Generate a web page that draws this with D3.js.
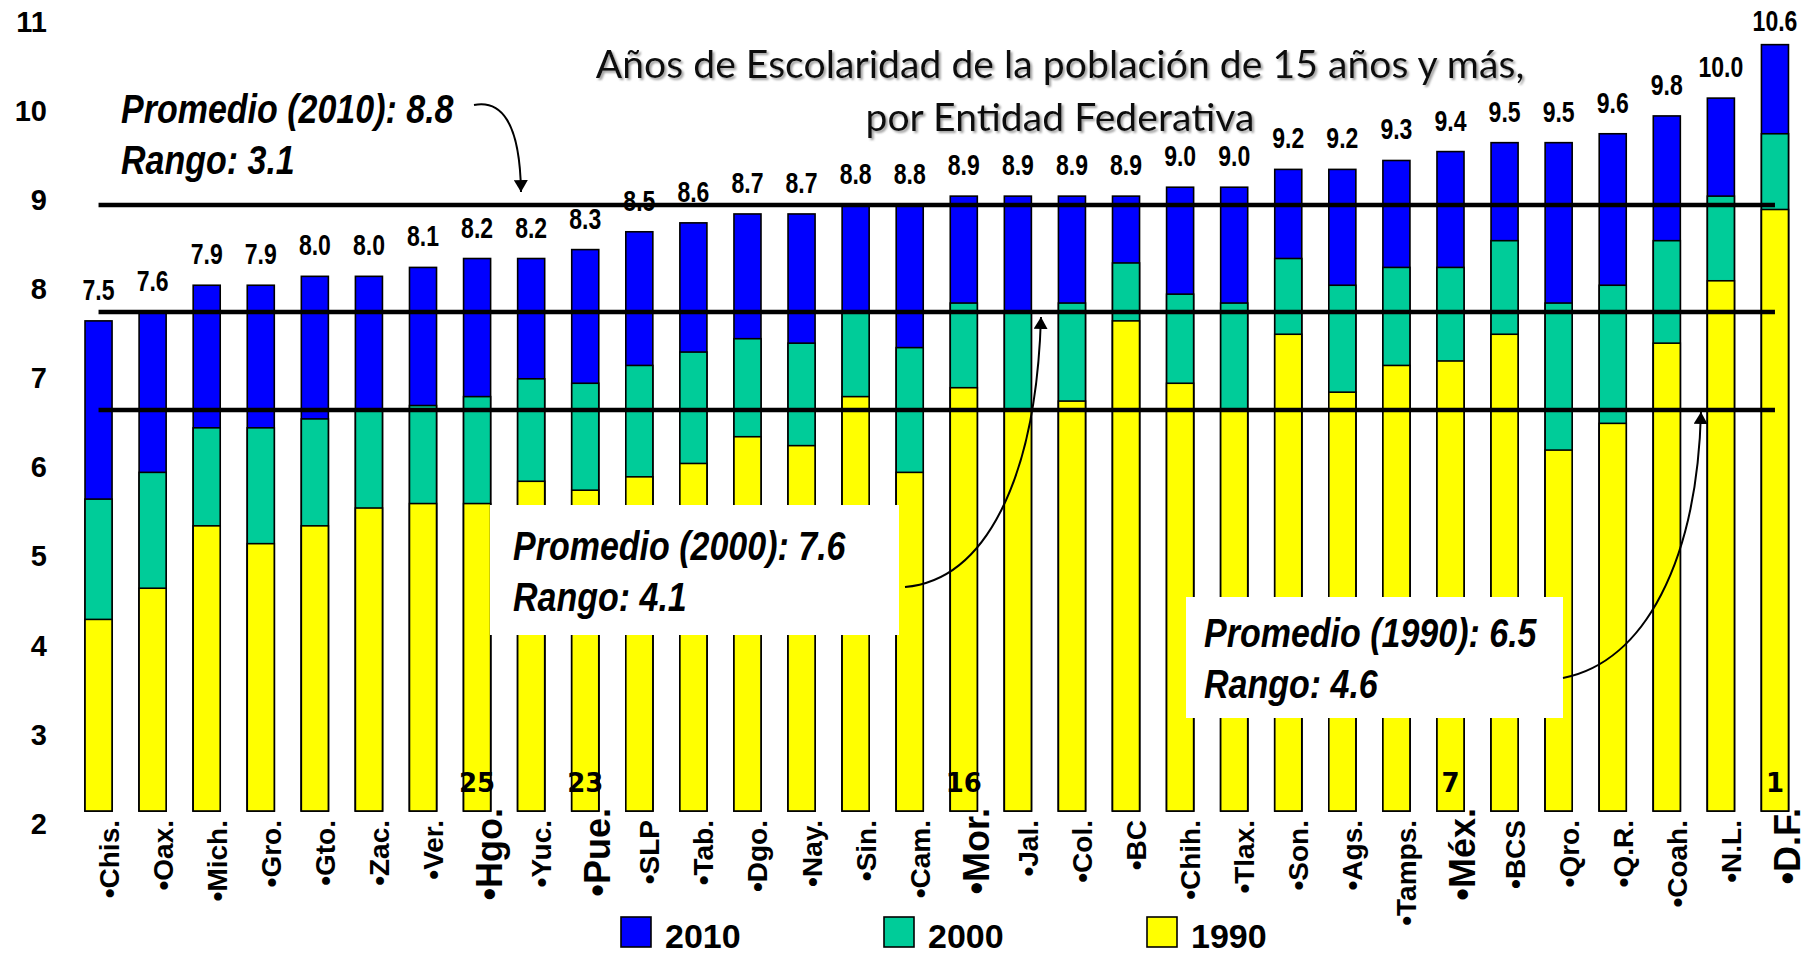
<!DOCTYPE html>
<html>
<head>
<meta charset="utf-8">
<script src="https://cdn.jsdelivr.net/npm/d3@7"></script>
<style>
  body { margin: 0; background: #fff; }
  svg { display: block; }
</style>
</head>
<body>
<svg id="main" width="1814" height="957"></svg>
<script>
// data
var states = ["Chis.", "Oax.", "Mich.", "Gro.", "Gto.", "Zac.", "Ver.", "Hgo.", "Yuc.", "Pue.",
  "SLP", "Tab.", "Dgo.", "Nay.", "Sin.", "Cam.", "Mor.", "Jal.", "Col.", "BC",
  "Chih.", "Tlax.", "Son.", "Ags.", "Tamps.", "Méx.", "BCS", "Qro.", "Q.R.", "Coah.",
  "N.L.", "D.F."];

var values2010 = [7.5, 7.6, 7.9, 7.9, 8.0, 8.0, 8.1, 8.2, 8.2, 8.3,
  8.5, 8.6, 8.7, 8.7, 8.8, 8.8, 8.9, 8.9, 8.9, 8.9,
  9.0, 9.0, 9.2, 9.2, 9.3, 9.4, 9.5, 9.5, 9.6, 9.8,
  10.0, 10.6];

var values2000 = [5.5, 5.8, 6.3, 6.3, 6.4, 6.5, 6.55, 6.65, 6.85, 6.8,
  7.0, 7.15, 7.3, 7.25, 7.6, 7.2, 7.7, 7.6, 7.7, 8.15,
  7.8, 7.7, 8.2, 7.9, 8.1, 8.1, 8.4, 7.7, 7.9, 8.4,
  8.9, 9.6];

var values1990 = [4.15, 4.5, 5.2, 5.0, 5.2, 5.4, 5.45, 5.45, 5.7, 5.6,
  5.75, 5.9, 6.2, 6.1, 6.65, 5.8, 6.75, 6.5, 6.6, 7.5,
  6.8, 6.5, 7.35, 6.7, 7.0, 7.05, 7.35, 6.05, 6.35, 7.25,
  7.95, 8.75];

var years = ["2010", "2000", "1990"];
var colors = ["#0000ff", "#00cc99", "#ffff00"];
var averages = [8.8, 7.6, 6.5];
var ranges = [3.1, 4.1, 4.6];

var highlighted = ["Hgo.", "Pue.", "Mor.", "Méx.", "D.F."];
var ranks = [25, 23, 16, 7, 1];

var yTicks = [2, 3, 4, 5, 6, 7, 8, 9, 10, 11];

var titleLines = ["Años de Escolaridad de la población de 15 años y más,", "por Entidad Federativa"];

var boldFont = "'Liberation Sans', Arial, sans-serif";

var svg = d3.select("#main");

var defs = svg.append("defs");
defs.append("filter")
  .attr("id", "shadow")
  .attr("x", "-5%").attr("y", "-20%").attr("width", "110%").attr("height", "140%")
  .append("feDropShadow")
  .attr("dx", 2).attr("dy", 2).attr("stdDeviation", 1)
  .attr("flood-color", "#888").attr("flood-opacity", 0.8);

defs.append("marker")
  .attr("id", "arrow")
  .attr("viewBox", "0 0 12 14")
  .attr("markerUnits", "userSpaceOnUse")
  .attr("markerWidth", 12).attr("markerHeight", 14)
  .attr("refX", 12).attr("refY", 7)
  .attr("orient", "auto")
  .append("path")
  .attr("d", "M0,0 L12,7 L0,14 Z")
  .attr("fill", "#000");

var x = d3.scaleBand()
  .domain(states)
  .range([71.5, 1802])
  .paddingInner(0.5)
  .paddingOuter(0.25);

var y = d3.scaleLinear()
  .domain([2, 11])
  .range([811, 9]);

var bw = x.bandwidth();
function cx(s) { return x(s) + bw / 2; }

// y axis, labels only
var yAxis = svg.append("g")
  .attr("transform", "translate(47,0)")
  .call(d3.axisLeft(y).tickValues(yTicks).tickSize(0).tickPadding(0).tickFormat(d3.format("d")));
yAxis.select(".domain").remove();
yAxis.selectAll("text")
  .attr("transform", "translate(0,13)")
  .style("font-family", boldFont)
  .style("font-weight", "bold")
  .style("font-size", "29px")
  .style("fill", "#000");

// overlapping bars: 2010 behind, 1990 in front
var series = [values2010, values2000, values1990];
series.forEach(function(vals, i) {
  svg.append("g")
    .attr("class", "bars-" + years[i])
    .selectAll("rect")
    .data(states)
    .enter()
    .append("rect")
    .attr("x", function(d) { return x(d); })
    .attr("width", bw)
    .attr("y", function(d, j) { return y(vals[j]); })
    .attr("height", function(d, j) { return y(2) - y(vals[j]); })
    .attr("fill", colors[i])
    .attr("stroke", "#000")
    .attr("stroke-width", 1.6);
});

// value labels of 2010 (tall, narrow look of the original)
svg.append("g")
  .selectAll("text")
  .data(states)
  .enter()
  .append("text")
  .attr("transform", function(d, j) {
    return "translate(" + cx(d) + "," + Math.max(y(values2010[j]) - 21, 31) + ") scale(1,1.25)";
  })
  .attr("text-anchor", "middle")
  .style("font-family", boldFont)
  .style("font-weight", "bold")
  .style("font-size", "23px")
  .text(function(d, j) { return d3.format(".1f")(values2010[j]); });

// average lines
svg.append("g")
  .selectAll("line")
  .data(averages)
  .enter()
  .append("line")
  .attr("x1", cx(states[0]))
  .attr("x2", cx(states[states.length - 1]))
  .attr("y1", function(d) { return y(d); })
  .attr("y2", function(d) { return y(d); })
  .attr("stroke", "#000")
  .attr("stroke-width", 4.5);

// rank numbers on highlighted states
svg.append("g")
  .selectAll("text")
  .data(highlighted)
  .enter()
  .append("text")
  .attr("x", function(d) { return cx(d); })
  .attr("y", 792)
  .attr("text-anchor", "middle")
  .style("font-family", "'DejaVu Sans', sans-serif")
  .style("font-weight", "bold")
  .style("font-size", "26px")
  .text(function(d, i) { return ranks[i]; });

// category labels, rotated
svg.append("g")
  .selectAll("text")
  .data(states)
  .enter()
  .append("text")
  .attr("transform", function(d) {
    var big = highlighted.indexOf(d) >= 0;
    return "translate(" + (cx(d) + (big ? 25 : 20)) + "," + (big ? 808 : 820) + ") rotate(-90)";
  })
  .attr("text-anchor", "end")
  .style("font-family", boldFont)
  .style("font-weight", "bold")
  .style("font-size", function(d) { return highlighted.indexOf(d) >= 0 ? "36px" : "28px"; })
  .text(function(d) { return "\u2022" + d; });

// title
var title = svg.append("g").attr("filter", "url(#shadow)");
var titleText = title.selectAll("text")
  .data(titleLines)
  .enter()
  .append("text")
  .attr("x", 1060)
  .attr("y", function(d, i) { return i === 0 ? 78 : 131; })
  .attr("text-anchor", "middle")
  .style("font-family", "Lato, 'Open Sans', sans-serif")
  .style("font-size", "36px")
  .style("fill", "#111")
  .text(function(d) { return d; });
// fit first line to the reference width
var w0 = titleText.node().getComputedTextLength();
titleText.style("font-size", (36 * 929 / w0) + "px");

// annotations
var notes = [
  { box: null, tx: 121, ty: 123, path: [[474, 105], [500, 100], [520, 120], [521, y(averages[0]) - 13]] },
  { box: [490, 505, 409, 130], tx: 513, ty: 560, path: [[905, 587], [985, 580], [1036, 480], [1041, y(averages[1]) + 5]] },
  { box: [1186, 597, 377, 121], tx: 1204, ty: 647, path: [[1563, 678], [1645, 662], [1697, 560], [1701, y(averages[2]) + 2]] }
];

notes.forEach(function(n, i) {
  var g = svg.append("g");
  if (n.box) {
    g.append("rect")
      .attr("x", n.box[0]).attr("y", n.box[1])
      .attr("width", n.box[2]).attr("height", n.box[3])
      .attr("fill", "#fff");
  }
  var p = d3.path();
  p.moveTo(n.path[0][0], n.path[0][1]);
  p.bezierCurveTo(n.path[1][0], n.path[1][1], n.path[2][0], n.path[2][1], n.path[3][0], n.path[3][1]);
  g.append("path")
    .attr("d", p.toString())
    .attr("fill", "none")
    .attr("stroke", "#000")
    .attr("stroke-width", 2)
    .attr("marker-end", "url(#arrow)");
  var lines = [
    "Promedio (" + years[i] + "): " + d3.format(".1f")(averages[i]),
    "Rango: " + d3.format(".1f")(ranges[i])
  ];
  g.selectAll("text.note")
    .data(lines)
    .enter()
    .append("text")
    .attr("class", "note")
    .attr("transform", function(d, k) {
      return "translate(" + n.tx + "," + (n.ty + k * 51) + ") scale(1,1.2)";
    })
    .style("font-family", boldFont)
    .style("font-weight", "bold")
    .style("font-style", "italic")
    .style("font-size", "34px")
    .text(function(d) { return d; });
});

// legend
var legend = svg.append("g")
  .selectAll("g")
  .data(years)
  .enter()
  .append("g")
  .attr("transform", function(d, i) { return "translate(" + (621 + i * 263) + ",917)"; });
legend.append("rect")
  .attr("width", 30).attr("height", 30)
  .attr("fill", function(d, i) { return colors[i]; })
  .attr("stroke", "#000")
  .attr("stroke-width", 1.6);
legend.append("text")
  .attr("x", 44).attr("y", 31)
  .style("font-family", boldFont)
  .style("font-weight", "bold")
  .style("font-size", "34px")
  .text(function(d) { return d; });
</script>
</body>
</html>
